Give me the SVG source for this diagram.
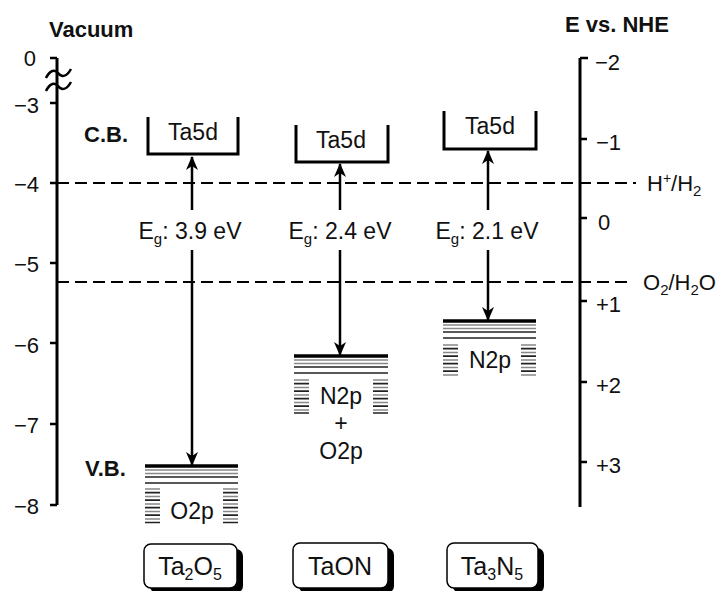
<svg xmlns="http://www.w3.org/2000/svg" width="723" height="591" viewBox="0 0 723 591">
<defs>
<marker id="ah" viewBox="0 0 14 12" refX="13" refY="6" markerWidth="14" markerHeight="12" markerUnits="userSpaceOnUse" orient="auto">
<path d="M0,0 L14,6 L0,12 L4,6 z" fill="#000"/>
</marker>
<style>
text{font-family:"Liberation Sans",Arial,sans-serif;fill:#111;}
.ax{stroke:#000;stroke-width:3;fill:none;}
.tk{stroke:#000;stroke-width:2.5;}
.num{font-size:22px;}
.bold{font-weight:bold;font-size:22px;}
.dash{stroke:#000;stroke-width:2.2;stroke-dasharray:12 6;fill:none;}
.cb{stroke:#000;stroke-width:3;fill:none;}
.lbl{font-size:23px;text-anchor:middle;}
.name{font-size:25px;text-anchor:middle;}
.eg{font-size:23px;text-anchor:middle;}
.arr{stroke:#000;stroke-width:2.5;fill:none;marker-end:url(#ah);}
.vt{stroke:#000;stroke-width:3.5;}
.g{stroke:#888;stroke-width:1.7;}
.k{stroke:#222;stroke-width:1.7;}
.box{fill:#fff;stroke:#000;stroke-width:1.5;}
.shd{fill:#000;}
</style>
</defs>

<g id="left-axis">
<path class="ax" d="M57,58 V505"/>
<path class="tk" d="M50,58 H57 M50,103 H57 M50,183 H57 M50,263 H57 M50,343 H57 M50,424 H57 M50,505 H57"/>
<path d="M46,78 C50,70 55,69 58,73 S66,78 71,69 M46,91 C50,83 55,82 58,86 S66,91 71,82" stroke="#000" stroke-width="2.5" fill="none"/>
<text class="num" x="36" y="66" text-anchor="end">0</text>
<text class="num" x="39" y="113" text-anchor="end">−3</text>
<text class="num" x="39" y="192" text-anchor="end">−4</text>
<text class="num" x="39" y="272" text-anchor="end">−5</text>
<text class="num" x="39" y="353" text-anchor="end">−6</text>
<text class="num" x="39" y="433" text-anchor="end">−7</text>
<text class="num" x="39" y="514" text-anchor="end">−8</text>
<text class="bold" x="49" y="37" font-size="24">Vacuum</text>
<text class="bold" x="84" y="142">C.B.</text>
<text class="bold" x="85" y="476">V.B.</text>
</g>

<g id="right-axis">
<path class="ax" d="M580,58 V507"/>
<path class="tk" d="M580,58 H588 M580,139 H587 M580,218 H587 M580,301 H587 M580,382 H587 M580,462 H587"/>
<text class="num" x="595" y="70">−2</text>
<text class="num" x="596" y="150">−1</text>
<text class="num" x="598" y="230">0</text>
<text class="num" x="596" y="312">+1</text>
<text class="num" x="596" y="393">+2</text>
<text class="num" x="596" y="473">+3</text>
<text class="bold" x="565" y="32" font-size="23">E vs. NHE</text>
</g>

<g id="redox-levels">
<path class="dash" d="M57,183 H636"/>
<path class="dash" d="M57,282 H633"/>
<text class="num" x="647" y="191">H<tspan font-size="14" dy="-8">+</tspan><tspan dy="8">/H</tspan><tspan font-size="15" dy="5">2</tspan></text>
<text class="num" x="643" y="290">O<tspan font-size="15" dy="5">2</tspan><tspan dy="-5">/H</tspan><tspan font-size="15" dy="5">2</tspan><tspan dy="-5">O</tspan></text>
</g>

<g id="Ta2O5">
<path class="cb" d="M148,117 V154 H238 V117"/>
<text class="lbl" x="193" y="140">Ta5d</text>
<path class="vt" d="M145,466 H238"/>
<path class="g" d="M145,470 H238 M145,473.5 H238"/>
<path class="k" d="M145,477 H238 M145,483 H238"/>
<path class="g" d="M145,489 H160 M223,489 H238 M145,496.5 H160 M223,496.5 H238 M145,504 H160 M223,504 H238 M145,511.5 H160 M223,511.5 H238 M145,519 H160 M223,519 H238"/>
<path class="k" d="M145,492.7 H160 M223,492.7 H238 M145,500.2 H160 M223,500.2 H238 M145,507.7 H160 M223,507.7 H238 M145,515.2 H160 M223,515.2 H238 M145,522.5 H160 M223,522.5 H238"/>
<text class="lbl" x="192" y="519">O2p</text>
<rect class="shd" x="150" y="549" width="93" height="44" rx="7"/>
<rect class="box" x="144" y="544" width="93" height="44" rx="7"/>
<text class="name" x="190" y="575">Ta<tspan font-size="16" dy="5">2</tspan><tspan dy="-5">O</tspan><tspan font-size="16" dy="5">5</tspan></text>
</g>

<g id="TaON">
<path class="cb" d="M296,125 V162 H388 V125"/>
<text class="lbl" x="341" y="148">Ta5d</text>
<path class="vt" d="M294,356 H388"/>
<path class="g" d="M294,360 H388 M294,363.5 H388"/>
<path class="k" d="M294,367 H388 M294,373 H388"/>
<path class="g" d="M294,380 H309 M373,380 H388 M294,387.5 H309 M373,387.5 H388 M294,395 H309 M373,395 H388 M294,402.5 H309 M373,402.5 H388 M294,410 H309 M373,410 H388"/>
<path class="k" d="M294,383.7 H309 M373,383.7 H388 M294,391.2 H309 M373,391.2 H388 M294,398.7 H309 M373,398.7 H388 M294,406.2 H309 M373,406.2 H388 M294,413 H309 M373,413 H388"/>
<text class="lbl" x="341" y="404">N2p</text>
<text class="lbl" x="341" y="431">+</text>
<text class="lbl" x="341" y="459">O2p</text>
<rect class="shd" x="299" y="548" width="95" height="45" rx="7"/>
<rect class="box" x="293" y="543" width="95" height="45" rx="7"/>
<text class="name" x="340" y="575">TaON</text>
</g>

<g id="Ta3N5">
<path class="cb" d="M444,111 V149 H536 V111"/>
<text class="lbl" x="490" y="134">Ta5d</text>
<path class="vt" d="M443,321 H536"/>
<path class="g" d="M443,325 H536 M443,328.5 H536"/>
<path class="k" d="M443,332 H536 M443,338 H536"/>
<path class="g" d="M443,345 H458 M521,345 H536 M443,352.5 H458 M521,352.5 H536 M443,360 H458 M521,360 H536 M443,367.5 H458 M521,367.5 H536 M443,375 H458 M521,375 H536"/>
<path class="k" d="M443,348.7 H458 M521,348.7 H536 M443,356.2 H458 M521,356.2 H536 M443,363.7 H458 M521,363.7 H536 M443,371.2 H458 M521,371.2 H536"/>
<text class="lbl" x="490" y="368">N2p</text>
<rect class="shd" x="453" y="548" width="91" height="45" rx="7"/>
<rect class="box" x="447" y="543" width="91" height="45" rx="7"/>
<text class="name" x="492" y="575">Ta<tspan font-size="16" dy="5">3</tspan><tspan dy="-5">N</tspan><tspan font-size="16" dy="5">5</tspan></text>
</g>

<g id="connectors">
<path class="arr" d="M192,210 V157"/>
<path class="arr" d="M192,250 V465"/>
<path class="arr" d="M340,210 V164"/>
<path class="arr" d="M340,250 V355"/>
<path class="arr" d="M488,210 V151"/>
<path class="arr" d="M488,250 V320"/>
</g>

<g id="gap-labels">
<text class="eg" x="190" y="239">E<tspan font-size="15" dy="5">g</tspan><tspan dy="-5">: 3.9 eV</tspan></text>
<text class="eg" x="340" y="239">E<tspan font-size="15" dy="5">g</tspan><tspan dy="-5">: 2.4 eV</tspan></text>
<text class="eg" x="487" y="239">E<tspan font-size="15" dy="5">g</tspan><tspan dy="-5">: 2.1 eV</tspan></text>
</g>
</svg>
